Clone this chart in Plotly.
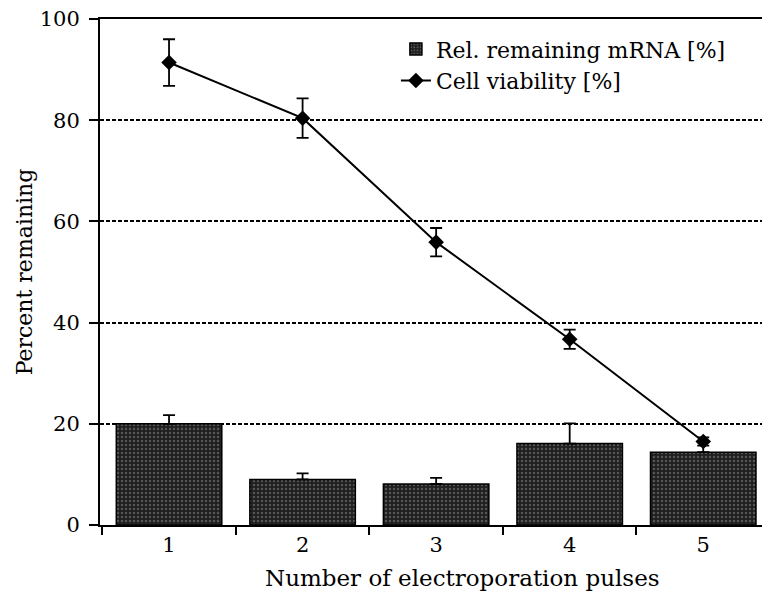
import plotly.graph_objects as go

# Electroporation series: pulse counts, remaining mRNA and cell viability
pulses = ["1", "2", "3", "4", "5"]
mrna_remaining = [20.0, 9.0, 8.1, 16.1, 14.4]
mrna_err_up = [1.7, 1.2, 1.2, 4.0, 2.0]
viability = [91.4, 80.4, 55.9, 36.7, 16.5]
viability_err = [4.6, 3.9, 2.8, 1.9, 0.8]
y_ticks = [0, 20, 40, 60, 80, 100]

FONT = "DejaVu Serif"

fig = go.Figure()

fig.add_trace(go.Bar(
    x=pulses,
    y=mrna_remaining,
    name="Rel. remaining mRNA [%]",
    width=0.79,
    marker=dict(
        color="#222222",
        line=dict(color="black", width=1.5),
        pattern=dict(shape=".", fgcolor="#8c8c8c", bgcolor="#1f1f1f",
                     size=4, solidity=0.3),
    ),
    error_y=dict(type="data", symmetric=False, array=mrna_err_up,
                 arrayminus=[0] * len(mrna_err_up),
                 color="black", thickness=1.8, width=6),
))

fig.add_trace(go.Scatter(
    x=pulses,
    y=viability,
    name="Cell viability [%]",
    mode="lines+markers",
    line=dict(color="black", width=2),
    marker=dict(symbol="diamond", size=12, color="black"),
    error_y=dict(type="data", array=viability_err, color="black",
                 thickness=1.8, width=6),
))

fig.update_layout(
    width=762,
    height=595,
    margin=dict(l=100, r=0, t=19, b=70),
    paper_bgcolor="white",
    plot_bgcolor="white",
    font=dict(family=FONT, size=20, color="black"),
    bargap=0.2,
    showlegend=True,
    legend=dict(
        x=0.447, y=0.982, xanchor="left", yanchor="top",
        bgcolor="rgba(0,0,0,0)",
        font=dict(family=FONT, size=22, color="black"),
        tracegroupgap=0,
    ),
    annotations=[dict(
        text="Number of electroporation pulses",
        xref="paper", yref="paper", x=0.548, y=-0.105,
        xanchor="center", yanchor="middle", showarrow=False,
        font=dict(family=FONT, size=23, color="black"),
    )],
)

fig.update_xaxes(
    type="category",
    range=[-0.517, 4.44],
    showgrid=False,
    showline=True, linecolor="black", linewidth=2,
    mirror=True,
    ticks="outside", ticklen=8, tickwidth=1.5, tickcolor="black",
    tickson="boundaries",
    tickfont=dict(family=FONT, size=21),
)

fig.update_yaxes(
    range=[0, 100],
    tickvals=y_ticks,
    showline=True, linecolor="black", linewidth=2,
    ticks="outside", ticklen=9, tickwidth=1.5, tickcolor="black",
    ticklabelstandoff=5,
    showgrid=True, gridcolor="black", gridwidth=1.5, griddash="4px,2px",
    zeroline=False,
    title=dict(text="Percent remaining", standoff=1,
               font=dict(family=FONT, size=22)),
    tickfont=dict(family=FONT, size=21),
)

fig.write_html("out.html")
